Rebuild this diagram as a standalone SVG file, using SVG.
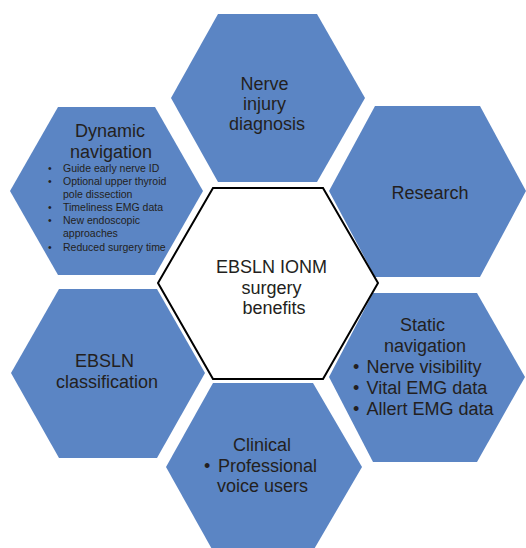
<svg xmlns="http://www.w3.org/2000/svg" width="526" height="548" viewBox="0 0 526 548">
  <style>
    .hex { fill: #5B85C4; stroke: none; }
    .core { fill: #FFFFFF; stroke: #000000; stroke-width: 2; stroke-linejoin: miter; }
    .t { font-family: "Liberation Sans", Arial, sans-serif; fill: #231F20; }
    .big { font-size: 18px; text-anchor: middle; }
    .lst { font-size: 18px; }
    .sm { font-size: 10.5px; }
  </style>
  <rect width="526" height="548" fill="#FFFFFF"/>

  <!-- outer ring of benefit hexagons -->
  <g id="node-nerve-injury">
    <polygon class="hex" points="171,98 218,14 317,14 365,98 317,182 218,182"/>
    <text class="t big">
      <tspan x="267" y="89.5">Nerve</tspan>
      <tspan x="267" y="110">injury</tspan>
      <tspan x="267" y="130">diagnosis</tspan>
    </text>
  </g>

  <g id="node-research">
    <polygon class="hex" points="329,191 375,106 480,106 526,191 480,277 375,277"/>
    <text class="t big" x="430" y="199">Research</text>
  </g>

  <g id="node-static-navigation">
    <polygon class="hex" points="329,377 373,293 477,293 525,377 477,462 373,462"/>
    <text class="t big">
      <tspan x="425" y="331">Static</tspan>
      <tspan x="425" y="352">navigation</tspan>
    </text>
    <text class="t lst">
      <tspan x="353" y="373">•</tspan><tspan x="366.5" y="373">Nerve visibility</tspan>
      <tspan x="353" y="394">•</tspan><tspan x="366.5" y="394">Vital EMG data</tspan>
      <tspan x="353" y="415">•</tspan><tspan x="366.5" y="415">Allert EMG data</tspan>
    </text>
  </g>

  <g id="node-clinical">
    <polygon class="hex" points="166,467 213,383 313,383 362,467 313,551 213,551"/>
    <text class="t big" x="262" y="451">Clinical</text>
    <text class="t lst">
      <tspan x="204" y="472">•</tspan><tspan x="218" y="472">Professional</tspan>
      <tspan x="217" y="492">voice users</tspan>
    </text>
  </g>

  <g id="node-ebsln-classification">
    <polygon class="hex" points="11,373 59,289 157,289 205,373 157,458 59,458"/>
    <text class="t big">
      <tspan x="107" y="367">EBSLN</tspan>
      <tspan x="107" y="388">classification</tspan>
    </text>
  </g>

  <g id="node-dynamic-navigation">
    <polygon class="hex" points="10,191 58,107 155,107 203,191 155,275 58,275"/>
    <text class="t big" x="110" y="137">Dynamic</text>
    <text class="t big" x="111" y="157.5">navigation</text>
    <text class="t sm">
      <tspan x="48" y="172">•</tspan><tspan x="63" y="172">Guide early nerve ID</tspan>
      <tspan x="48" y="185">•</tspan><tspan x="63" y="185">Optional upper thyroid</tspan>
      <tspan x="63" y="197.5">pole dissection</tspan>
      <tspan x="48" y="211">•</tspan><tspan x="63" y="211">Timeliness EMG data</tspan>
      <tspan x="48" y="224">•</tspan><tspan x="63" y="224">New endoscopic</tspan>
      <tspan x="63" y="237">approaches</tspan>
      <tspan x="48" y="251">•</tspan><tspan x="63" y="251">Reduced surgery time</tspan>
    </text>
  </g>

  <!-- central hub -->
  <g id="node-core">
    <polygon class="core" points="158,283 213,188 323,188 378,283 323,379 213,379"/>
    <text class="t big">
      <tspan x="274" y="273">EBSLN IONM</tspan>
      <tspan x="274" y="294">surgery</tspan>
      <tspan x="274" y="314">benefits</tspan>
    </text>
  </g>
</svg>
